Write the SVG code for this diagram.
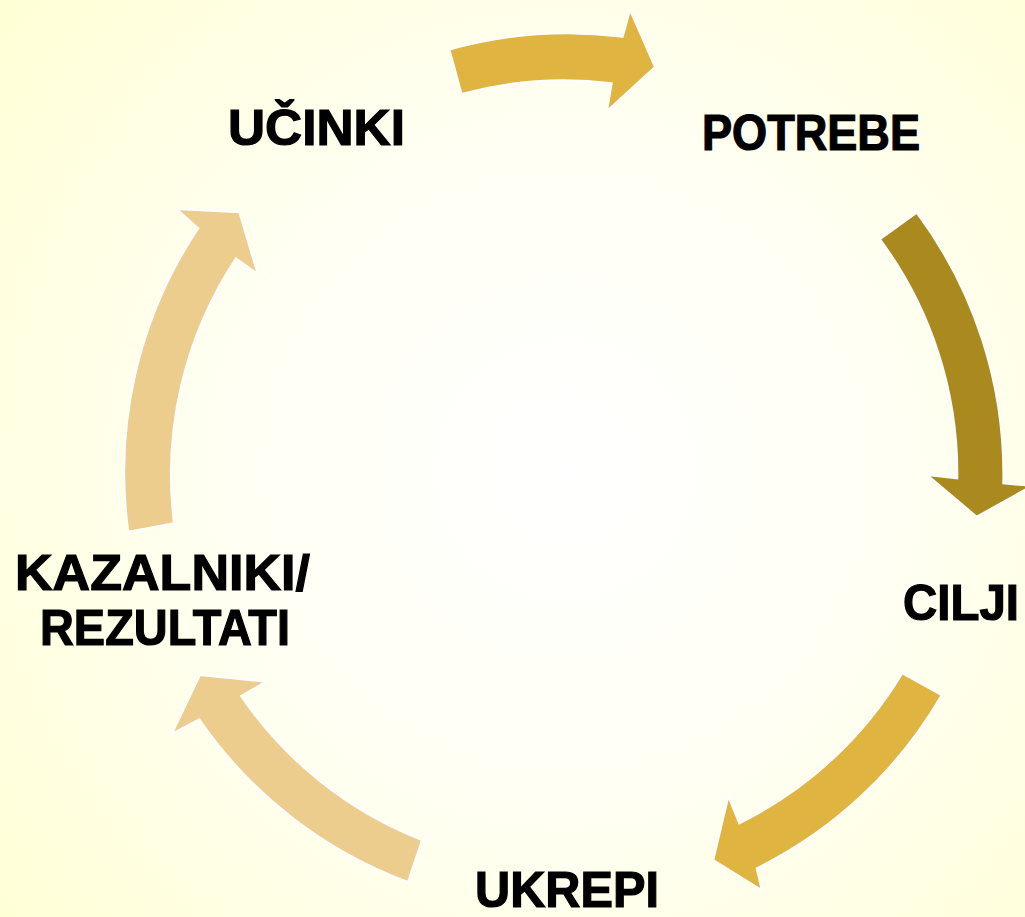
<svg xmlns="http://www.w3.org/2000/svg" width="1025" height="917" viewBox="0 0 1025 917">
  <defs>
    <radialGradient id="bg" cx="565" cy="470" r="720" gradientUnits="userSpaceOnUse">
      <stop offset="0" stop-color="#FFFFFF"/>
      <stop offset="0.45" stop-color="#FFFFF4"/>
      <stop offset="1" stop-color="#FFFFD6"/>
    </radialGradient>
    <style>
      .lbl { font-family: "Liberation Sans", Arial, sans-serif; font-weight: bold; font-size: 50px; fill: #000000; stroke: #000000; stroke-width: 1.2px; }
      .arr { stroke: #FFFFFF; stroke-width: 2; stroke-linejoin: miter; }
      .gold { fill: #E0B441; }
      .dark { fill: #AA8A1E; }
      .light { fill: #ECCD8E; }
    </style>
  </defs>
  <rect x="0" y="0" width="1025" height="917" fill="url(#bg)"/>

  <g id="connectors">
    <path class="arr gold" d="M 449.4 49.5 A 438 438 0 0 1 622.7 36.7 L 630 10 L 655 67 L 607 111 L 611.7 83.3 A 392 392 0 0 0 461.6 93.9 Z"/>
    <path class="arr dark" d="M 916.7 212.7 A 438 438 0 0 1 1003.3 483.3 L 1031.8 485.9 L 976.7 516.7 L 927.3 475 L 957.3 478.3 A 392 392 0 0 0 880 239.3 Z"/>
    <path class="arr gold" d="M 941.7 695 A 438 438 0 0 1 756.7 868.3 L 761.7 890 L 713.3 860 L 728.3 796.7 L 739.3 823.3 A 392 392 0 0 0 902.3 673.3 Z"/>
    <path class="arr light" d="M 408 882 A 438 438 0 0 1 199.3 719.3 L 171.7 734 L 200 675 L 266 681.7 L 241 696 A 392 392 0 0 0 422 840 Z"/>
    <path class="arr light" d="M 128.3 531.7 A 438 438 0 0 1 198.3 228.3 L 176.7 209 L 239.3 212.3 L 257.7 274 L 236 258.3 A 392 392 0 0 0 174 523.3 Z"/>
  </g>

  <g id="node-ucinki">
    <text class="lbl" x="228" y="145" textLength="177" lengthAdjust="spacingAndGlyphs">UČINKI</text>
  </g>
  <g id="node-potrebe">
    <text class="lbl" x="702" y="150" textLength="218" lengthAdjust="spacingAndGlyphs">POTREBE</text>
  </g>
  <g id="node-cilji">
    <text class="lbl" x="903" y="620" textLength="116" lengthAdjust="spacingAndGlyphs">CILJI</text>
  </g>
  <g id="node-ukrepi">
    <text class="lbl" x="475" y="907" textLength="184" lengthAdjust="spacingAndGlyphs">UKREPI</text>
  </g>
  <g id="node-kazalniki">
    <text class="lbl" x="15" y="590" textLength="295" lengthAdjust="spacingAndGlyphs">KAZALNIKI/</text>
    <text class="lbl" x="40" y="645" textLength="250" lengthAdjust="spacingAndGlyphs">REZULTATI</text>
  </g>
</svg>
